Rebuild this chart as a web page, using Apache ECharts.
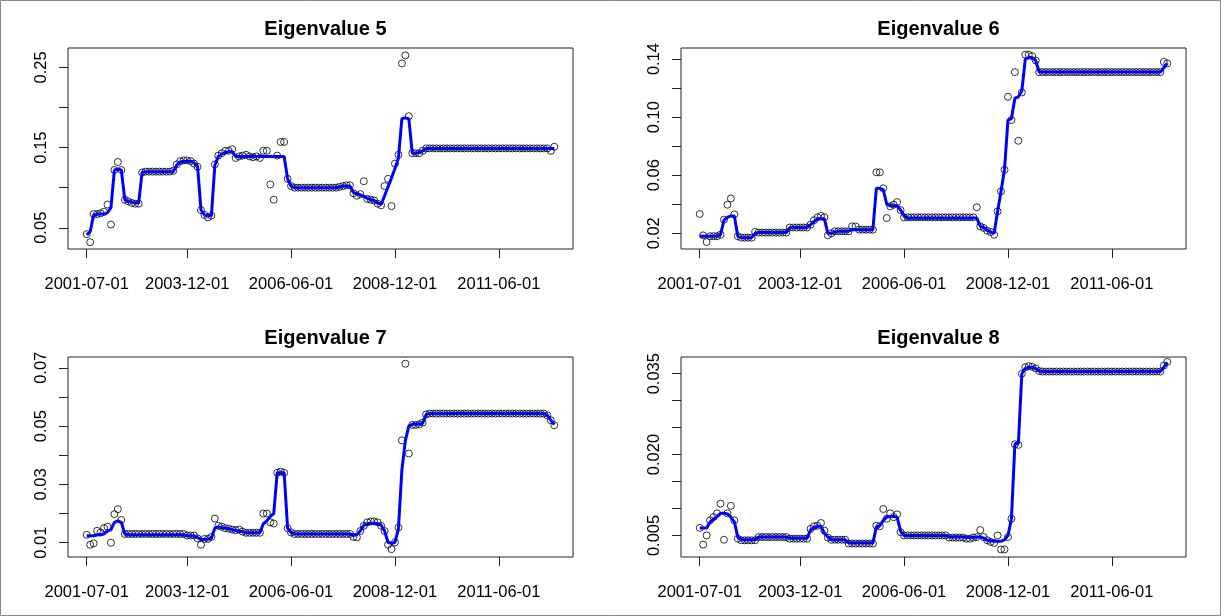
<!DOCTYPE html>
<html><head><meta charset="utf-8">
<script src="https://cdn.jsdelivr.net/npm/echarts@6/dist/echarts.min.js"></script>
<style>html,body{margin:0;padding:0;background:#fff}#c{width:1228px;height:616px}</style>
</head><body><div id="c"></div>
<script>
// x positions are month indices, 0 = 2001-07-01, monthly
const tickIndex = [0, 29, 59, 89, 119];
const tickLabels = ['2001-07-01', '2003-12-01', '2006-06-01', '2008-12-01', '2011-06-01'];
const titles = ['Eigenvalue 5', 'Eigenvalue 6', 'Eigenvalue 7', 'Eigenvalue 8'];

const p5 = [
0.042,0.032,0.067,0.067,0.068,0.070,0.079,0.054,0.122,0.132,
0.122,0.085,0.083,0.081,0.080,0.080,0.119,0.120,0.120,0.120,
0.120,0.120,0.120,0.120,0.120,0.121,0.129,0.133,0.134,0.134,
0.133,0.130,0.126,0.072,0.066,0.063,0.065,0.129,0.140,0.143,
0.146,0.146,0.148,0.137,0.139,0.140,0.141,0.139,0.138,0.139,
0.137,0.146,0.146,0.104,0.085,0.140,0.157,0.157,0.111,0.102,
0.100,0.100,0.100,0.100,0.100,0.100,0.100,0.100,0.100,0.100,
0.100,0.100,0.100,0.101,0.102,0.103,0.103,0.093,0.090,0.092,
0.108,0.086,0.085,0.084,0.080,0.078,0.102,0.111,0.077,0.130,
0.141,0.255,0.265,0.189,0.143,0.143,0.143,0.146,0.149,0.149,
0.149,0.149,0.149,0.149,0.149,0.149,0.149,0.149,0.149,0.149,
0.149,0.149,0.149,0.149,0.149,0.149,0.149,0.149,0.149,0.149,
0.149,0.149,0.149,0.149,0.149,0.149,0.149,0.149,0.149,0.149,
0.149,0.149,0.149,0.149,0.146,0.151];
const l5 = [
0.041,0.045,0.066,0.067,0.067,0.067,0.069,0.075,0.122,0.123,
0.122,0.085,0.083,0.082,0.081,0.081,0.119,0.120,0.120,0.120,
0.120,0.120,0.120,0.120,0.120,0.120,0.128,0.132,0.133,0.133,
0.133,0.131,0.127,0.072,0.066,0.065,0.065,0.128,0.139,0.142,
0.144,0.145,0.145,0.139,0.139,0.139,0.139,0.139,0.139,0.139,
0.139,0.139,0.139,0.139,0.139,0.139,0.139,0.139,0.111,0.102,
0.100,0.100,0.100,0.100,0.100,0.100,0.100,0.100,0.100,0.100,
0.100,0.100,0.100,0.101,0.102,0.102,0.102,0.094,0.092,0.091,
0.089,0.087,0.085,0.084,0.081,0.079,0.090,0.101,0.112,0.124,
0.137,0.186,0.187,0.186,0.143,0.143,0.144,0.146,0.149,0.149,
0.149,0.149,0.149,0.149,0.149,0.149,0.149,0.149,0.149,0.149,
0.149,0.149,0.149,0.149,0.149,0.149,0.149,0.149,0.149,0.149,
0.149,0.149,0.149,0.149,0.149,0.149,0.149,0.149,0.149,0.149,
0.149,0.149,0.149,0.149,0.149,0.149];

const p6 = [
0.0333,0.0186,0.014,0.018,0.018,0.018,0.019,0.0294,0.0397,0.044,
0.033,0.018,0.017,0.017,0.017,0.017,0.021,0.0205,0.0205,0.0205,
0.0205,0.0205,0.0205,0.0205,0.0205,0.0205,0.024,0.024,0.024,0.024,
0.024,0.024,0.026,0.029,0.031,0.032,0.031,0.0186,0.020,0.0214,
0.0214,0.0214,0.0214,0.0214,0.0248,0.0248,0.0225,0.0225,0.0225,0.0225,
0.0225,0.062,0.062,0.051,0.0305,0.0386,0.0397,0.0415,0.036,0.031,
0.031,0.031,0.031,0.031,0.031,0.031,0.031,0.031,0.031,0.031,
0.031,0.031,0.031,0.031,0.031,0.031,0.031,0.031,0.031,0.031,
0.0379,0.0248,0.0237,0.0218,0.0209,0.019,0.0351,0.0489,0.0637,0.114,
0.098,0.131,0.0837,0.117,0.143,0.143,0.142,0.139,0.131,0.131,
0.131,0.131,0.131,0.131,0.131,0.131,0.131,0.131,0.131,0.131,
0.131,0.131,0.131,0.131,0.131,0.131,0.131,0.131,0.131,0.131,
0.131,0.131,0.131,0.131,0.131,0.131,0.131,0.131,0.131,0.131,
0.131,0.131,0.131,0.131,0.138,0.137];
const l6 = [
0.018,0.018,0.018,0.018,0.018,0.018,0.019,0.029,0.031,0.032,
0.032,0.018,0.017,0.017,0.017,0.017,0.020,0.0205,0.0205,0.0205,
0.0205,0.0205,0.0205,0.0205,0.0205,0.0205,0.024,0.024,0.024,0.024,
0.024,0.024,0.026,0.028,0.030,0.030,0.030,0.020,0.020,0.021,
0.0215,0.0215,0.0215,0.0215,0.0225,0.0225,0.0225,0.0225,0.0225,0.0225,
0.0225,0.051,0.051,0.050,0.040,0.039,0.039,0.039,0.036,0.032,
0.0305,0.0305,0.0305,0.0305,0.0305,0.0305,0.0305,0.0305,0.0305,0.0305,
0.0305,0.0305,0.0305,0.0305,0.0305,0.0305,0.0305,0.0305,0.0305,0.0305,
0.0305,0.025,0.024,0.022,0.021,0.020,0.035,0.049,0.064,0.098,
0.099,0.113,0.114,0.118,0.140,0.141,0.141,0.139,0.131,0.131,
0.131,0.131,0.131,0.131,0.131,0.131,0.131,0.131,0.131,0.131,
0.131,0.131,0.131,0.131,0.131,0.131,0.131,0.131,0.131,0.131,
0.131,0.131,0.131,0.131,0.131,0.131,0.131,0.131,0.131,0.131,
0.131,0.131,0.131,0.131,0.134,0.137];

const p7 = [
0.0127,0.0093,0.0098,0.0141,0.0135,0.015,0.0155,0.010,0.0198,0.0215,
0.0178,0.013,0.013,0.013,0.013,0.013,0.013,0.013,0.013,0.013,
0.013,0.013,0.013,0.013,0.013,0.013,0.013,0.013,0.013,0.0125,
0.0125,0.0125,0.0115,0.0093,0.0113,0.0113,0.012,0.0183,0.0158,0.0155,
0.015,0.0148,0.0145,0.0143,0.0145,0.0138,0.0134,0.0134,0.0134,0.0134,
0.0134,0.020,0.020,0.017,0.0166,0.034,0.0344,0.034,0.015,0.0135,
0.013,0.013,0.013,0.013,0.013,0.013,0.013,0.013,0.013,0.013,
0.013,0.013,0.013,0.013,0.013,0.013,0.013,0.012,0.0118,0.014,
0.0158,0.017,0.0173,0.0173,0.017,0.0158,0.014,0.0093,0.0078,0.0101,
0.0152,0.0451,0.0714,0.0406,0.0504,0.0504,0.0506,0.0512,0.054,0.0543,
0.0543,0.0543,0.0543,0.0543,0.0543,0.0543,0.0543,0.0543,0.0543,0.0543,
0.0543,0.0543,0.0543,0.0543,0.0543,0.0543,0.0543,0.0543,0.0543,0.0543,
0.0543,0.0543,0.0543,0.0543,0.0543,0.0543,0.0543,0.0543,0.0543,0.0543,
0.0543,0.0543,0.0543,0.0537,0.052,0.0503];
const l7 = [
0.0124,0.0124,0.0124,0.0126,0.0128,0.013,0.014,0.0145,0.017,0.0175,
0.017,0.013,0.0127,0.0127,0.0127,0.0127,0.0127,0.0127,0.0127,0.0127,
0.0127,0.0127,0.0127,0.0127,0.0127,0.0127,0.0127,0.0127,0.0127,0.0124,
0.0124,0.0124,0.0118,0.011,0.0112,0.0112,0.0115,0.015,0.0155,0.0152,
0.015,0.0148,0.0145,0.0142,0.014,0.0138,0.0134,0.0134,0.0134,0.0134,
0.0134,0.0165,0.0175,0.019,0.020,0.034,0.034,0.034,0.015,0.0135,
0.013,0.013,0.013,0.013,0.013,0.013,0.013,0.013,0.013,0.013,
0.013,0.013,0.013,0.013,0.013,0.013,0.013,0.0125,0.0128,0.014,
0.016,0.0165,0.0167,0.0167,0.0165,0.016,0.014,0.0101,0.0098,0.0101,
0.0148,0.035,0.045,0.050,0.0506,0.0506,0.0506,0.051,0.054,0.0543,
0.0543,0.0543,0.0543,0.0543,0.0543,0.0543,0.0543,0.0543,0.0543,0.0543,
0.0543,0.0543,0.0543,0.0543,0.0543,0.0543,0.0543,0.0543,0.0543,0.0543,
0.0543,0.0543,0.0543,0.0543,0.0543,0.0543,0.0543,0.0543,0.0543,0.0543,
0.0543,0.0543,0.0543,0.0537,0.052,0.0505];

const p8 = [
0.0064,0.0033,0.005,0.0078,0.0084,0.0091,0.0109,0.0042,0.0091,0.0105,
0.0078,0.0044,0.0041,0.0041,0.0041,0.0041,0.0041,0.0047,0.0047,0.0047,
0.0047,0.0047,0.0047,0.0047,0.0047,0.0047,0.0044,0.0044,0.0044,0.0044,
0.0044,0.0044,0.0062,0.0067,0.0068,0.0073,0.0059,0.0046,0.0042,0.0042,
0.0042,0.0042,0.0042,0.0035,0.0035,0.0035,0.0035,0.0035,0.0035,0.0035,
0.0035,0.0068,0.0067,0.0099,0.0081,0.0091,0.0084,0.0089,0.0056,0.005,
0.005,0.005,0.005,0.005,0.005,0.005,0.005,0.005,0.005,0.005,
0.005,0.005,0.0046,0.0046,0.0046,0.0046,0.0046,0.0044,0.0044,0.0046,
0.0047,0.006,0.0047,0.0041,0.0038,0.0036,0.005,0.0024,0.0024,0.0047,
0.0081,0.0219,0.0218,0.035,0.0362,0.0364,0.0363,0.036,0.0355,0.0354,
0.0354,0.0354,0.0354,0.0354,0.0354,0.0354,0.0354,0.0354,0.0354,0.0354,
0.0354,0.0354,0.0354,0.0354,0.0354,0.0354,0.0354,0.0354,0.0354,0.0354,
0.0354,0.0354,0.0354,0.0354,0.0354,0.0354,0.0354,0.0354,0.0354,0.0354,
0.0354,0.0354,0.0354,0.0354,0.0365,0.0372];
const l8 = [
0.0064,0.0064,0.0064,0.0075,0.008,0.0085,0.0091,0.0091,0.009,0.0084,
0.0075,0.0047,0.0042,0.0042,0.0042,0.0042,0.0042,0.0047,0.0047,0.0047,
0.0047,0.0047,0.0047,0.0047,0.0047,0.0047,0.0045,0.0045,0.0045,0.0045,
0.0045,0.0045,0.006,0.0065,0.0067,0.0067,0.0054,0.0047,0.0042,0.0042,
0.0042,0.0042,0.0042,0.0036,0.0036,0.0036,0.0036,0.0036,0.0036,0.0036,
0.0036,0.0066,0.0068,0.0078,0.0084,0.0085,0.0085,0.0084,0.0058,0.005,
0.005,0.005,0.005,0.005,0.005,0.005,0.005,0.005,0.005,0.005,
0.005,0.005,0.0047,0.0047,0.0047,0.0047,0.0047,0.0046,0.0046,0.0046,
0.0047,0.0047,0.0045,0.0041,0.004,0.0039,0.0039,0.0039,0.0042,0.005,
0.0081,0.022,0.022,0.035,0.036,0.0362,0.0362,0.036,0.0355,0.0354,
0.0354,0.0354,0.0354,0.0354,0.0354,0.0354,0.0354,0.0354,0.0354,0.0354,
0.0354,0.0354,0.0354,0.0354,0.0354,0.0354,0.0354,0.0354,0.0354,0.0354,
0.0354,0.0354,0.0354,0.0354,0.0354,0.0354,0.0354,0.0354,0.0354,0.0354,
0.0354,0.0354,0.0354,0.0354,0.0362,0.0371];

const yTicks5 = [0.05, 0.10, 0.15, 0.20, 0.25];
const yLabels5 = [0.05, 0.15, 0.25];
const yTicks6 = [0.02, 0.04, 0.06, 0.08, 0.10, 0.12, 0.14];
const yLabels6 = [0.02, 0.06, 0.10, 0.14];
const yTicks7 = [0.01, 0.02, 0.03, 0.04, 0.05, 0.06, 0.07];
const yLabels7 = [0.01, 0.03, 0.05, 0.07];
const yTicks8 = [0.005, 0.010, 0.015, 0.020, 0.025, 0.030, 0.035];
const yLabels8 = [0.005, 0.020, 0.035];

const pts = [p5, p6, p7, p8];
const lines = [l5, l6, l7, l8];
const yTicks = [yTicks5, yTicks6, yTicks7, yTicks8];
const yLabels = [yLabels5, yLabels6, yLabels7, yLabels8];
const yDec = [2, 2, 2, 3];
const yRange = [[0.0235, 0.2742], [0.0092, 0.1476], [0.0051, 0.0737], [0.0010, 0.0381]];
const grids = [
  {left: 68, top: 48, width: 505, height: 201},
  {left: 681, top: 48, width: 505, height: 201},
  {left: 68, top: 357, width: 505, height: 200},
  {left: 681, top: 357, width: 505, height: 200}
];
const FONT = '"Liberation Sans", Arial, sans-serif';
const chart = echarts.init(document.getElementById('c'), null, {renderer: 'canvas'});

const option = {
  backgroundColor: '#fff',
  animation: false,
  title: titles.map((t, k) => ({
    text: t,
    left: grids[k].left + grids[k].width / 2,
    top: grids[k].top - 34,
    textAlign: 'center',
    textStyle: {fontFamily: FONT, fontWeight: 'bold', fontSize: 20, color: '#000'}
  })),
  grid: grids.map(g => Object.assign({show: true, borderColor: '#222', borderWidth: 1, backgroundColor: 'transparent'}, g)),
  xAxis: grids.map((g, k) => ({
    type: 'value', gridIndex: k, min: -5.4, max: 140.4,
    axisLine: {show: false, onZero: false},
    splitLine: {show: false},
    axisTick: {show: true, customValues: tickIndex, length: 9, lineStyle: {color: '#222'}},
    axisLabel: {customValues: tickIndex, margin: 27, fontFamily: FONT, fontSize: 16.5, color: '#000',
      formatter: v => tickLabels[tickIndex.indexOf(Math.round(v))] || ''}
  })),
  yAxis: grids.map((g, k) => ({
    type: 'value', gridIndex: k, min: yRange[k][0], max: yRange[k][1],
    axisLine: {show: false, onZero: false},
    splitLine: {show: false},
    axisTick: {show: true, customValues: yTicks[k], length: 9, lineStyle: {color: '#222'}},
    axisLabel: {customValues: yLabels[k], rotate: 90, margin: 18, fontFamily: FONT, fontSize: 16.5, color: '#000',
      formatter: v => Number(v).toFixed(yDec[k])}
  })),
  series: [].concat(
    pts.map((arr, k) => ({
      type: 'scatter', xAxisIndex: k, yAxisIndex: k, z: 2,
      symbol: 'circle', symbolSize: 7,
      itemStyle: {color: 'rgba(0,0,0,0)', borderColor: '#000', borderWidth: 1},
      data: arr.map((v, i) => [i, v])
    })),
    lines.map((arr, k) => ({
      type: 'line', xAxisIndex: k, yAxisIndex: k, z: 3,
      showSymbol: false, symbol: 'none',
      lineStyle: {color: '#0000ff', width: 3},
      data: arr.map((v, i) => [i, v])
    }))
  ),
  graphic: [{
    type: 'rect', silent: true,
    shape: {x: 0.5, y: 0.5, width: 1220, height: 615},
    style: {fill: 'none', stroke: '#888', lineWidth: 1}
  }]
};
chart.setOption(option);
</script>
</body></html>
